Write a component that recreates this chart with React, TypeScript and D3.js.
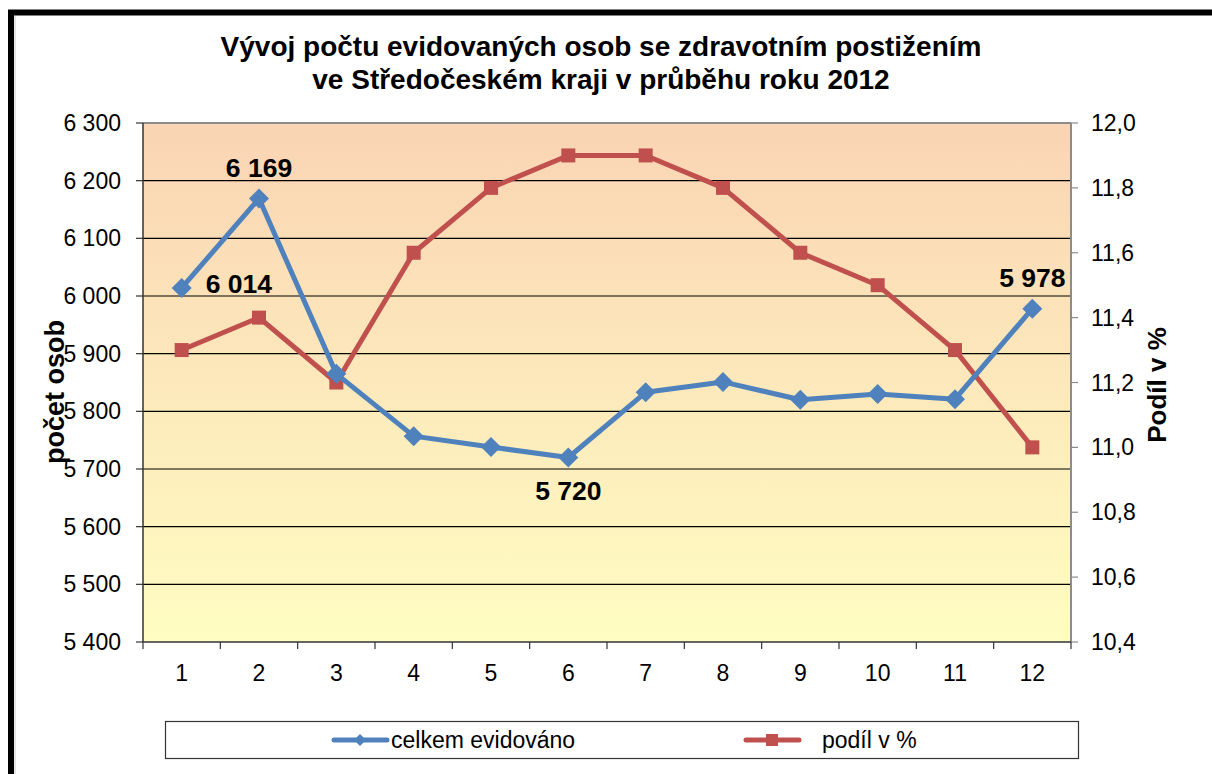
import React from "react";
import * as d3 from "d3";

const months = ["1", "2", "3", "4", "5", "6", "7", "8", "9", "10", "11", "12"];
const celkem = [6014, 6169, 5865, 5757, 5738, 5720, 5833, 5851, 5820, 5830, 5821, 5978];
const podil = [11.3, 11.4, 11.2, 11.6, 11.8, 11.9, 11.9, 11.8, 11.6, 11.5, 11.3, 11.0];
const leftTicks = [5400, 5500, 5600, 5700, 5800, 5900, 6000, 6100, 6200, 6300];
const rightTicks = [10.4, 10.6, 10.8, 11.0, 11.2, 11.4, 11.6, 11.8, 12.0];
const labelled = [
  { i: 0, pos: "right" },
  { i: 1, pos: "above" },
  { i: 5, pos: "below" },
  { i: 11, pos: "above" },
];
const titleLines = [
  "Vývoj počtu evidovaných osob se zdravotním postižením",
  "ve Středočeském kraji v průběhu roku 2012",
];
const seriesNames = ["celkem evidováno", "podíl v %"];

const BLUE = "#4F81BD";
const RED = "#C0504D";
const FONT = "'Liberation Sans', Arial, sans-serif";

const fmt = (v: number) => {
  const s = String(Math.round(v));
  return s.replace(/\B(?=(\d{3})+(?!\d))/g, " ");
};
const fmtR = (v: number) => v.toFixed(1).replace(".", ",");

export default function App() {
  const L = 143, R = 1071, T = 123, B = 642;
  const x = d3.scaleBand<string>().domain(months).range([L, R]);
  const yL = d3.scaleLinear().domain([5400, 6300]).range([B, T]);
  const yR = d3.scaleLinear().domain([10.4, 12.0]).range([B, T]);
  const cx = (i: number) => (x(months[i]) as number) + x.bandwidth() / 2;

  const lineL = d3.line<number>().x((_, i) => cx(i)).y((d) => yL(d));
  const lineR = d3.line<number>().x((_, i) => cx(i)).y((d) => yR(d));

  const diamond = (px: number, py: number, r: number) =>
    `M${px},${py - r}L${px + r},${py}L${px},${py + r}L${px - r},${py}Z`;

  const boundaries = d3.range(months.length + 1).map((k) => L + k * x.step());

  return (
    <svg
      width={1212}
      height={774}
      style={{ position: "absolute", left: 0, top: 0, display: "block" }}
      fontFamily={FONT}
    >
      <defs>
        <linearGradient id="bg" x1="0" y1="0" x2="0" y2="1">
          <stop offset="0%" stopColor="#FAD4B4" />
          <stop offset="100%" stopColor="#FFFDC2" />
        </linearGradient>
      </defs>
      <rect x={0} y={0} width={1212} height={774} fill="#fff" />
      <rect x={11} y={12.5} width={1240} height={800} fill="none" stroke="#000" strokeWidth={6} />
      <line x1={15} y1={16} x2={15} y2={774} stroke="#ccc" strokeWidth={1} />

      {/* title */}
      {titleLines.map((t, i) => (
        <text key={i} x={601} y={56 + i * 33} textAnchor="middle" fontWeight="bold" fontSize={28} fill="#000">
          {t}
        </text>
      ))}

      {/* plot area */}
      <rect x={L} y={T} width={R - L} height={B - T} fill="url(#bg)" />
      {leftTicks.slice(1, -1).map((v) => (
        <line key={v} x1={L} x2={R} y1={yL(v)} y2={yL(v)} stroke="#000" strokeWidth={1.2} />
      ))}
      <line x1={L} x2={R} y1={T} y2={T} stroke="#8c8c8c" strokeWidth={2} />
      <line x1={R} x2={R} y1={T} y2={B} stroke="#8c8c8c" strokeWidth={2} />
      <line x1={L} x2={L} y1={T} y2={B} stroke="#333" strokeWidth={1.5} />
      <line x1={L} x2={R} y1={B} y2={B} stroke="#333" strokeWidth={1.5} />

      {/* left axis */}
      {leftTicks.map((v) => (
        <g key={v}>
          <line x1={L - 7} x2={L} y1={yL(v)} y2={yL(v)} stroke="#333" strokeWidth={1.2} />
          <text x={121} y={yL(v) + 8} textAnchor="end" fontSize={23} fill="#000">
            {fmt(v)}
          </text>
        </g>
      ))}
      {/* right axis */}
      {rightTicks.map((v) => (
        <g key={v}>
          <line x1={R} x2={R + 7} y1={yR(v)} y2={yR(v)} stroke="#8c8c8c" strokeWidth={1.2} />
          <text x={1091} y={yR(v) + 8} textAnchor="start" fontSize={23} fill="#000">
            {fmtR(v)}
          </text>
        </g>
      ))}
      {/* x axis */}
      {boundaries.map((bx, k) => (
        <line key={k} x1={bx} x2={bx} y1={B} y2={B + 7} stroke="#333" strokeWidth={1.2} />
      ))}
      {months.map((m, i) => (
        <text key={m} x={cx(i)} y={681} textAnchor="middle" fontSize={23} fill="#000">
          {m}
        </text>
      ))}

      {/* axis titles */}
      <text
        transform={`translate(64,392) rotate(-90)`}
        textAnchor="middle"
        fontWeight="bold"
        fontSize={27}
        fill="#000"
      >
        počet osob
      </text>
      <text
        transform={`translate(1166,385) rotate(-90)`}
        textAnchor="middle"
        fontWeight="bold"
        fontSize={26}
        fill="#000"
      >
        Podíl v %
      </text>

      {/* series */}
      <path d={lineR(podil) as string} fill="none" stroke={RED} strokeWidth={5} strokeLinejoin="round" />
      {podil.map((v, i) => (
        <rect key={i} x={cx(i) - 7} y={yR(v) - 7} width={14} height={14} fill={RED} />
      ))}
      <path d={lineL(celkem) as string} fill="none" stroke={BLUE} strokeWidth={5} strokeLinejoin="round" />
      {celkem.map((v, i) => (
        <path key={i} d={diamond(cx(i), yL(v), 10)} fill={BLUE} />
      ))}

      {/* data labels */}
      {labelled.map(({ i, pos }) => {
        const px = cx(i);
        const py = yL(celkem[i]);
        let tx = px, ty = py, anchor: "start" | "middle" = "middle";
        if (pos === "right") { tx = px + 24; ty = py + 5; anchor = "start"; }
        if (pos === "above") { tx = px; ty = py - 22; }
        if (pos === "below") { tx = px; ty = py + 43; }
        return (
          <text key={i} x={tx} y={ty} textAnchor={anchor} fontWeight="bold" fontSize={26.5} fill="#000">
            {fmt(celkem[i])}
          </text>
        );
      })}

      {/* legend */}
      <rect x={165.5} y={721.5} width={913} height={37} fill="#fff" stroke="#333" strokeWidth={1.2} />
      <line x1={334} x2={387} y1={740} y2={740} stroke={BLUE} strokeWidth={5} strokeLinecap="round" />
      <path d={diamond(360, 740, 6)} fill={BLUE} />
      <text x={391} y={748} fontSize={23} fill="#000">{seriesNames[0]}</text>
      <line x1={746} x2={799} y1={740} y2={740} stroke={RED} strokeWidth={5} strokeLinecap="round" />
      <rect x={766} y={734} width={12} height={12} fill={RED} />
      <text x={822} y={748} fontSize={23} fill="#000">{seriesNames[1]}</text>
    </svg>
  );
}
